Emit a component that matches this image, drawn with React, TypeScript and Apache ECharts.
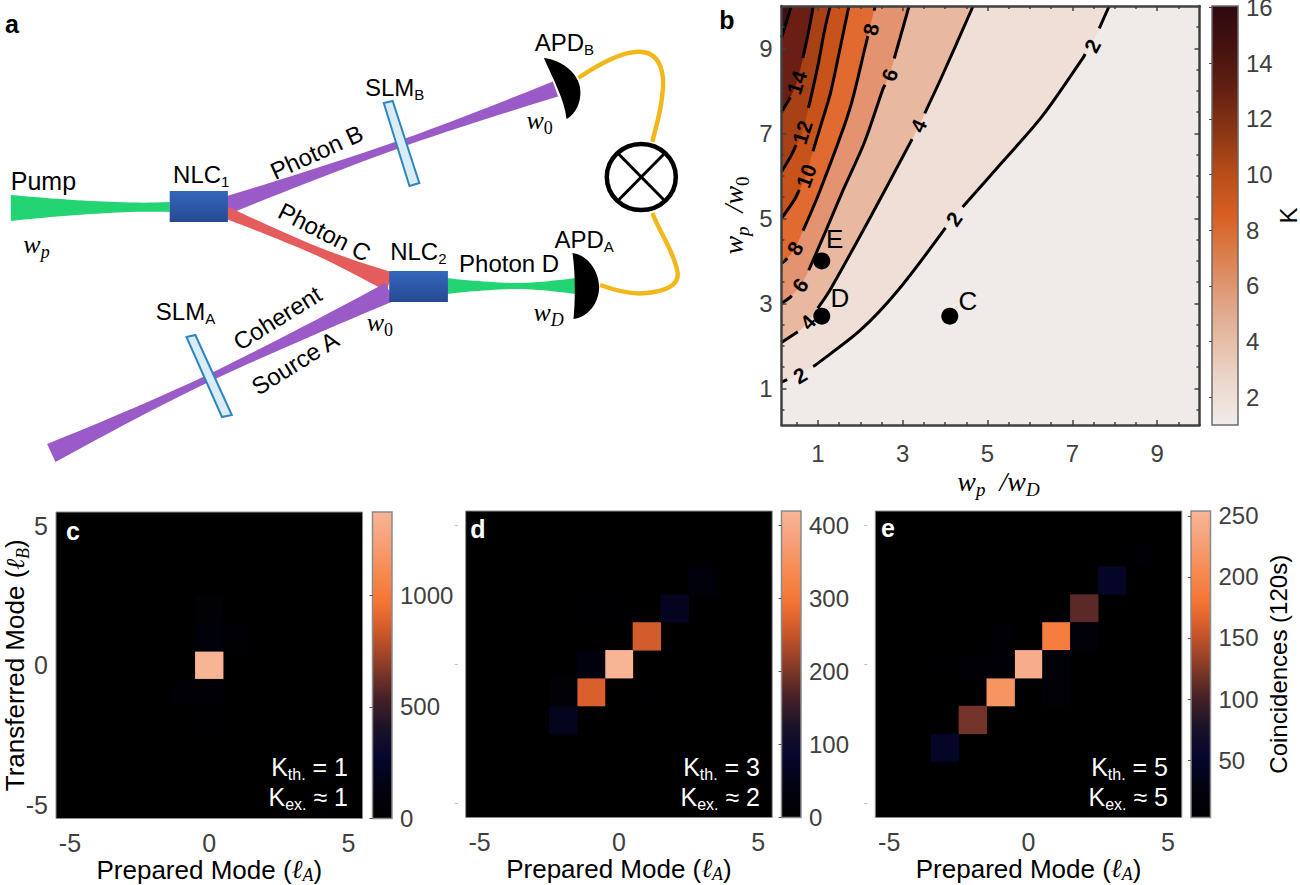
import React, { useEffect, useRef } from "react";
import * as echarts from "echarts";

// ---------- data ----------
const modes = ["-5", "-4", "-3", "-2", "-1", "0", "1", "2", "3", "4", "5"];
const heatStops = ["#000000", "#020212", "#06062e", "#1c1228", "#4a2228", "#8a3c28", "#c9552a", "#f47333", "#f68a50", "#f6a078", "#f8b596"];
const kStops = ["#f1ecea", "#ecd8cd", "#e6bea8", "#e0a080", "#db8050", "#d85f22", "#b84d1a", "#8a3614", "#642012", "#46120f", "#2e0810"];

const cellsC = [[0, 0, 1372], [0, 1, 70], [0, 2, 45], [1, 1, 35], [-1, -1, 30], [0, -1, 40], [0, -2, 25]];
const cellsD = [[0, 0, 420], [1, 1, 262], [-1, -1, 268], [2, 2, 62], [3, 3, 28], [-2, -2, 60], [-2, -1, 15], [-1, 0, 30], [0, 2, 5], [1, -1, 8], [-1, 2, 4]];
const cellsE = [[0, 0, 245], [1, 1, 190], [-1, -1, 215], [2, 2, 110], [-2, -2, 120], [3, 3, 48], [-3, -3, 48], [1, 0, 14], [2, 1, 16], [1, -1, 12], [-1, 1, 8], [-2, 0, 8], [-3, 0, 6], [4, 4, 8], [-1, 0, 10]];
const ticksC = [0, 500, 1000];
const ticksD = [0, 100, 200, 300, 400];
const ticksE = [50, 100, 150, 200, 250];
const ticksK = [2, 4, 6, 8, 10, 12, 14, 16];
const majorB = [1, 3, 5, 7, 9];
const minorB = [0.5, 1.5, 2, 2.5, 3.5, 4, 4.5, 5.5, 6, 6.5, 7.5, 8, 8.5, 9.5];

const contour2 = [[0.14, 1.15], [0.55, 1.33], [0.94, 1.55], [2, 2.37], [2.89, 3.31], [4.2, 5.03], [5.37, 6.35], [6.3, 7.42], [7.24, 8.76], [7.59, 9.37], [7.87, 10]];
const contour4 = [[0.14, 2.08], [0.58, 2.37], [0.76, 2.56], [0.93, 2.79], [1.28, 3.31], [2.22, 5], [3.33, 7.07], [3.95, 8.4], [4.66, 10]];
const contour6 = [[0.14, 3], [0.34, 3.14], [0.58, 3.43], [0.76, 3.73], [1.16, 4.65], [1.59, 5.66], [2.1, 6.8], [2.53, 8.04], [2.69, 8.38], [3.15, 10]];
const contour8 = [[0.14, 3.95], [0.22, 4], [0.46, 4.3], [0.62, 4.65], [1.05, 5.66], [1.74, 7.54], [2.13, 9.1], [2.35, 10]];
const contour10 = [[0.14, 5], [0.45, 5.45], [0.72, 6], [0.85, 6.48], [1.07, 7.2], [1.29, 7.93], [1.5, 8.9], [1.73, 10]];
const contour12 = [[0.14, 6.1], [0.35, 6.45], [0.63, 7.03], [0.8, 7.7], [1, 8.6], [1.15, 9.4], [1.29, 10]];
const contour14 = [[0.14, 7.5], [0.35, 7.85], [0.5, 8.2], [0.65, 8.8], [0.78, 9.4], [0.89, 10]];
const contour16 = [[0.14, 9.26], [0.25, 9.6], [0.37, 10]];
const contours = [contour2, contour4, contour6, contour8, contour10, contour12, contour14, contour16];
const bandColors = ["#efdfd6", "#e8b8a0", "#e39370", "#e06a30", "#c8531a", "#a84216", "#6b1e14", "#3f0f14"];
const contourLabels: [number, number, string, number][] = [
  [7.47, 9.06, "2", 62], [4.21, 4.99, "2", 55], [0.58, 1.31, "2", 30],
  [3.37, 7.18, "4", 65], [0.76, 2.56, "4", 48],
  [2.69, 8.38, "6", 72], [0.58, 3.43, "6", 55],
  [2.25, 9.45, "8", 78], [0.46, 4.3, "8", 58],
  [0.72, 6, "10", 70], [0.63, 7.03, "12", 72], [0.5, 8.2, "14", 72],
];
const points: [number, number, string, number[]][] = [
  [1.09, 4, "E", [13, -22]], [1.09, 2.7, "D", [18, -18]], [4.11, 2.7, "C", [18, -15]],
];

// ---------- drawing helpers ----------
const SANS = "Liberation Sans, Arial, sans-serif";
const SERIF = "Liberation Serif, DejaVu Serif, serif";
const TICK = "#404040";
const KX = 0.9866;

echarts.graphic.registerShape("detB", echarts.graphic.extendPath("M551,58 C570,60 590,75 588,95 C587,108 580,116 574,119 C572,100 561,80 551,58 Z", {}));
echarts.graphic.registerShape("detA", echarts.graphic.extendPath("M580,253 C596,255 607,272 607,287 C607,303 596,317 581,319 C583,300 583,272 580,253 Z", {}));
echarts.graphic.registerShape("wireB", echarts.graphic.extendPath("M586,78 C610,62 635,50 651,52 C670,54 674,75 671,95 C669,115 664,128 661,142", {}));
echarts.graphic.registerShape("wireA", echarts.graphic.extendPath("M608,285 C625,291 640,295 655,293 C675,291 690,285 686,270 C682,250 668,232 661,213", {}));

function stops(list: string[]) {
  return list.map((color, i) => ({ offset: i / (list.length - 1), color }));
}

// y of a contour at x, along its read-off polyline, to place the break under a contour label
function contourY(c: number[][], x: number) {
  for (let i = 1; i < c.length; i++) {
    if (x <= c[i][0]) {
      const t = (x - c[i - 1][0]) / (c[i][0] - c[i - 1][0]);
      return c[i - 1][1] + t * (c[i][1] - c[i - 1][1]);
    }
  }
  return c[c.length - 1][1];
}

function withGaps(c: number[][], labels: [number, number, string, number][]) {
  const cuts = labels
    .map(([x, , t, rot]) => {
      const half = ((t.length > 1 ? 20 : 15) * Math.cos((rot * Math.PI) / 180)) / 42.5;
      return [Math.max(x - half, c[0][0]), Math.min(x + half, c[c.length - 1][0])];
    })
    .sort((a, b) => a[0] - b[0]);
  const out: any[] = [];
  let k = 0;
  c.forEach((p) => {
    while (k < cuts.length && p[0] >= cuts[k][0]) {
      out.push([cuts[k][0], contourY(c, cuts[k][0])], ["-", "-"], [cuts[k][1], contourY(c, cuts[k][1])]);
      k++;
    }
    const inside = cuts.some(([a, b]) => p[0] >= a && p[0] <= b);
    if (!inside) out.push(p);
  });
  return out;
}

function beam(x0: number, y0: number, x1: number, y1: number, w0: number, wm: number, w1: number, tm: number, color: string) {
  const dx = x1 - x0, dy = y1 - y0, L = Math.hypot(dx, dy), nx = -dy / L, ny = dx / L;
  const upper: number[][] = [], lower: number[][] = [];
  for (let i = 0; i <= 24; i++) {
    const t = i / 24;
    const u = t < tm ? (tm - t) / tm : (t - tm) / (1 - tm);
    const w = wm + ((t < tm ? w0 : w1) - wm) * Math.pow(u, 1.6);
    upper.push([(x0 + dx * t + nx * w) * KX, y0 + dy * t + ny * w]);
    lower.unshift([(x0 + dx * t - nx * w) * KX, y0 + dy * t - ny * w]);
  }
  return { type: "polygon", z: 3, shape: { points: upper.concat(lower) }, style: { fill: color } };
}

function box(x: number, y: number, w: number, h: number) {
  return {
    type: "rect", z: 5, shape: { x: x * KX, y, width: w * KX, height: h },
    style: { fill: { type: "linear", x: 0, y: 0, x2: 0, y2: 1, colorStops: [{ offset: 0, color: "#3366bd" }, { offset: 1, color: "#274a91" }] } },
  };
}

const richSub = (size: number, color = "#000", pad = Math.round(size * 0.6)) => ({
  m: { fontFamily: SANS, fontSize: size, fill: color, color },
  s: { fontFamily: SANS, fontSize: Math.round(size * 0.62), fill: color, color, padding: [pad, 0, 0, 0] },
  i: { fontFamily: SERIF, fontStyle: "italic", fontSize: size, fill: color, color },
  j: { fontFamily: SERIF, fontStyle: "italic", fontSize: Math.round(size * 0.68), fill: color, color, padding: [pad, 0, 0, 0] },
  k: { fontFamily: SERIF, fontSize: Math.round(size * 0.68), fill: color, color, padding: [pad, 0, 0, 0] },
});

function label(text: string, x: number, y: number, size = 24, rotationDeg = 0, color = "#000", align = "center", kx = KX) {
  return {
    type: "text", z: 20, x: x * kx, y, rotation: (rotationDeg * Math.PI) / 180,
    style: { text, rich: richSub(size, color), font: `${size}px ${SANS}`, fill: color, align, verticalAlign: "middle" },
  };
}

function panelMark(text: string, x: number, y: number, color: string) {
  return {
    type: "text", z: 20, x, y,
    style: { text, font: `bold 25px ${SANS}`, fill: color, align: "center", verticalAlign: "middle" },
  };
}

const poly = (pts: number[][]) => pts.map(([x, y]) => [x * KX, y]);
const GREEN = "#22d472", PURPLE = "#9a5ac8", RED = "#e55c5c";

const schematic: any[] = [
  beam(11, 208, 172, 207, 13, 4.5, 5, 0.85, GREEN),
  beam(228, 206, 563, 89, 9, 3.5, 8, 0.55, PURPLE),
  beam(228, 212, 395, 282, 6, 4, 10, 0.5, RED),
  beam(395, 292, 52, 453, 10, 3.5, 10, 0.55, PURPLE),
  beam(452, 286, 583, 286, 8, 3, 8, 0.55, GREEN),
  box(172, 191, 59, 31),
  box(394.5, 271, 59.5, 31),
  { type: "polygon", z: 6, shape: { points: poly([[389, 103], [398, 101], [425, 183], [415, 186]]) }, style: { fill: "#d9ecf8", stroke: "#2e86c1", lineWidth: 2 } },
  { type: "polygon", z: 6, shape: { points: poly([[189, 337], [198, 335], [235, 415], [225, 417]]) }, style: { fill: "#d9ecf8", stroke: "#2e86c1", lineWidth: 2 } },
  { type: "wireB", z: 4, scaleX: KX, style: { fill: "none", stroke: "#f2b71a", lineWidth: 4.5 } },
  { type: "wireA", z: 4, scaleX: KX, style: { fill: "none", stroke: "#f2b71a", lineWidth: 4.5 } },
  { type: "detB", z: 7, scaleX: KX, style: { fill: "#000" } },
  { type: "detA", z: 7, scaleX: KX, style: { fill: "#000" } },
  { type: "ellipse", z: 7, shape: { cx: 650 * KX, cy: 177, rx: 34.5, ry: 33 }, style: { fill: "#fff", stroke: "#000", lineWidth: 4.5 } },
  { type: "line", z: 8, shape: { x1: 626 * KX, y1: 153, x2: 674 * KX, y2: 201 }, style: { stroke: "#000", lineWidth: 3 } },
  { type: "line", z: 8, shape: { x1: 674 * KX, y1: 153, x2: 626 * KX, y2: 201 }, style: { stroke: "#000", lineWidth: 3 } },
  panelMark("a", 12, 24, "#000"),
  panelMark("b", 727, 20, "#000"),
  panelMark("c", 73, 531, "#fff"),
  panelMark("d", 478, 529, "#fff"),
  panelMark("e", 888, 528, "#fff"),
  label("Pump", 44, 181, 25),
  label("{m|NLC}{s|1}", 204, 174),
  label("{m|NLC}{s|2}", 424, 251),
  label("{m|SLM}{s|B}", 400, 87),
  label("{m|SLM}{s|A}", 188, 311),
  label("{m|APD}{s|B}", 572, 42),
  label("{m|APD}{s|A}", 592, 239),
  label("Photon B", 321, 152, 24, 24.5),
  label("Photon C", 329, 232, 24, -27),
  label("Photon D", 516, 263),
  label("Coherent", 281, 318, 24, 32),
  label("Source A", 299, 363, 24, 32),
  label("{i|w}{j|p}", 37, 244, 26),
  label("{i|w}{k|0}", 547, 120, 26),
  label("{i|w}{k|0}", 385, 322, 26),
  label("{i|w}{j|D}", 556, 312, 26),
  label("{m|K}{s|th.}{m| = 1}", 348, 767, 25, 0, "#fff", "right", 1),
  label("{m|K}{s|ex.}{m| ≈ 1}", 348, 797, 25, 0, "#fff", "right", 1),
  label("{m|K}{s|th.}{m| = 3}", 760, 767, 25, 0, "#fff", "right", 1),
  label("{m|K}{s|ex.}{m| ≈ 2}", 760, 797, 25, 0, "#fff", "right", 1),
  label("{m|K}{s|th.}{m| = 5}", 1168, 767, 25, 0, "#fff", "right", 1),
  label("{m|K}{s|ex.}{m| ≈ 5}", 1168, 797, 25, 0, "#fff", "right", 1),
];

function buildOption() {
  const grid: any[] = [], xAxis: any[] = [], yAxis: any[] = [], series: any[] = [], visualMap: any[] = [];
  const modeName = "{m|Prepared Mode (}{i|ℓ}{j|A}{m|)}";

  // ---- panel b ----
  grid.push({ left: 781.5, top: 6, width: 418, height: 419, show: true, backgroundColor: "#f0ebe9", borderWidth: 0, outerBoundsMode: "none" });
  const valAxis = { gridIndex: 0, type: "value", min: 0.14, max: 10, z: 8, splitLine: { show: false } };
  const nameRich = richSub(28);
  const frame = { show: true, lineStyle: { color: "#404040", width: 2.5 } };
  const major = { show: true, inside: true, length: 5, customValues: majorB, lineStyle: { color: "#404040", width: 1.5 } };
  const minor = { show: true, inside: true, length: 3, customValues: minorB, lineStyle: { color: "#404040", width: 1.5 } };
  const labelBase = { show: true, customValues: majorB, color: TICK, fontFamily: SANS, fontSize: 24, formatter: (v: number) => String(v) };
  xAxis.push(
    { ...valAxis, position: "bottom", axisLine: frame, axisTick: major, axisLabel: { ...labelBase, margin: 16 }, name: "{i|w}{j|p}{i|  /w}{j|D}", nameLocation: "middle", nameGap: 38, nameTextStyle: { rich: nameRich, padding: [0, 0, 0, 16] } },
    { ...valAxis, position: "top", axisLine: frame, axisTick: major, axisLabel: { show: false } },
    { ...valAxis, position: "bottom", axisLine: { show: false }, axisTick: minor, axisLabel: { show: false } },
    { ...valAxis, position: "top", axisLine: { show: false }, axisTick: minor, axisLabel: { show: false } },
  );
  yAxis.push(
    { ...valAxis, position: "left", axisLine: frame, axisTick: major, axisLabel: { ...labelBase, margin: 9 }, name: "{i|w}{j|p}{i|  /w}{k|0}", nameLocation: "middle", nameRotate: 90, nameGap: 30, nameTextStyle: { rich: nameRich } },
    { ...valAxis, position: "right", axisLine: frame, axisTick: major, axisLabel: { show: false } },
    { ...valAxis, position: "left", axisLine: { show: false }, axisTick: minor, axisLabel: { show: false } },
    { ...valAxis, position: "right", axisLine: { show: false }, axisTick: minor, axisLabel: { show: false } },
  );
  contours.forEach((c, i) => {
    series.push({
      type: "line", xAxisIndex: 0, yAxisIndex: 0, data: c, smooth: 0.3, showSymbol: false, symbol: "none", silent: true, z: 2 + i * 0.01,
      lineStyle: { width: 0, opacity: 0 }, areaStyle: { origin: "end", color: bandColors[i], opacity: 1 },
    });
  });
  contours.forEach((c, i) => {
    const own = contourLabels.filter((l) => Number(l[2]) === (i + 1) * 2);
    series.push({
      type: "line", xAxisIndex: 0, yAxisIndex: 0, data: withGaps(c, own), smooth: 0.3, showSymbol: false, symbol: "none", silent: true, z: 2.5,
      connectNulls: false, lineStyle: { color: "#000", width: 3 },
    });
  });
  series.push({
    type: "scatter", xAxisIndex: 0, yAxisIndex: 0, symbolSize: 2, z: 3, itemStyle: { color: "transparent", opacity: 1 }, clip: false,
    data: contourLabels.map(([x, y, t, rotate]) => ({
      value: [x, y],
      label: { show: true, position: "inside", formatter: t, rotate, color: "#000", opacity: 1, fontFamily: SANS, fontSize: 21, fontWeight: "bold" },
    })),
  });
  series.push({
    type: "scatter", xAxisIndex: 0, yAxisIndex: 0, symbolSize: 17, z: 4, itemStyle: { color: "#000", opacity: 1 },
    data: points.map(([x, y, t, offset]) => ({
      value: [x, y],
      label: { show: true, position: "inside", formatter: t, offset, color: "#000", opacity: 1, fontFamily: SANS, fontSize: 26 },
    })),
  });

  // ---- colour bars ----
  const colorBar = (left: number, top: number, width: number, height: number, min: number, max: number, ticks: number[], colors: string[], border: string, name?: string, nameGap = 0) => {
    const g = grid.length;
    grid.push({ left, top, width, height, outerBoundsMode: "none" });
    xAxis.push({ gridIndex: g, type: "value", min: 0, max: 1, show: false });
    const yi = yAxis.length;
    yAxis.push({
      gridIndex: g, type: "value", min, max, position: "right", z: 8, splitLine: { show: false },
      axisLine: { show: false },
      axisTick: { show: true, inside: true, length: 3, customValues: ticks, lineStyle: { color: "#6b4a3c", width: 1 } },
      axisLabel: { show: true, customValues: ticks, color: TICK, fontFamily: SANS, fontSize: 24, margin: 8, formatter: (v: number) => String(v) },
      ...(name ? { name, nameLocation: "middle", nameRotate: 90, nameGap, nameMoveOverlap: false, nameTextStyle: { fontFamily: SANS, fontSize: 24, color: "#000" } } : {}),
    });
    series.push({
      type: "custom", xAxisIndex: xAxis.length - 1, yAxisIndex: yi, data: [[0, min]], silent: true, clip: false,
      renderItem: (_p: any, api: any) => {
        const a = api.coord([0, min]), b = api.coord([1, max]);
        return {
          type: "rect", shape: { x: a[0], y: b[1], width: b[0] - a[0], height: a[1] - b[1] },
          style: { fill: { type: "linear", x: 0, y: 1, x2: 0, y2: 0, colorStops: stops(colors) }, stroke: border, lineWidth: 1.5 },
        };
      },
    });
  };
  colorBar(1212, 6, 26, 419, 1, 16.05, ticksK, kStops, "#6a6a6a", "K", 38);

  // ---- heat maps ----
  const heat = (left: number, top: number, cells: number[][], min: number, max: number, showY: boolean, sideTicks: boolean) => {
    const g = grid.length;
    grid.push({ left, top, width: 306.5, height: 306.5, show: true, backgroundColor: "#000", borderColor: "#8a8a8a", borderWidth: 1, outerBoundsMode: "none" });
    const xi = xAxis.length, yi = yAxis.length;
    xAxis.push({
      gridIndex: g, type: "category", data: modes, position: "bottom", axisLine: { show: false }, axisTick: { show: false },
      axisLabel: { show: true, interval: 4, color: TICK, fontFamily: SANS, fontSize: 25, margin: 12 }, splitLine: { show: false },
      name: modeName, nameLocation: "middle", nameGap: 37, nameMoveOverlap: false, nameTextStyle: { rich: richSub(26, "#000", 10) },
    });
    yAxis.push({
      gridIndex: g, type: "category", data: modes, position: "left", splitLine: { show: false }, axisLine: { show: false },
      offset: sideTicks ? 8 : 0,
      axisTick: { show: sideTicks, alignWithLabel: true, interval: 4, length: 3, lineStyle: { color: "#bdbdbd", width: 1 } },
      axisLabel: { show: showY, interval: 4, color: TICK, fontFamily: SANS, fontSize: 25, margin: 8 },
      ...(showY ? { name: "{m|Transferred Mode (}{i|ℓ}{j|B}{m|)}", nameLocation: "middle", nameRotate: 90, nameGap: 24, nameMoveOverlap: false, nameTextStyle: { rich: richSub(26) } } : {}),
    });
    const si = series.length;
    series.push({
      type: "heatmap", xAxisIndex: xi, yAxisIndex: yi, silent: true, z: 2,
      data: cells.map(([x, y, v]) => [String(x), String(y), v]),
    });
    visualMap.push({ type: "continuous", show: false, seriesIndex: si, dimension: 2, min, max, inRange: { color: heatStops } });
  };
  heat(56, 512, cellsC, 0, 1372, true, false);
  colorBar(372.5, 512, 19.5, 306.5, 0, 1372, ticksC, heatStops, "#8a8a8a");
  heat(465.7, 511, cellsD, 0, 420, false, true);
  colorBar(781.5, 511, 19.5, 306.5, 0, 420, ticksD, heatStops, "#8a8a8a");
  heat(875.3, 511, cellsE, 3, 254, false, true);
  colorBar(1191, 511, 19.5, 306.5, 3, 254, ticksE, heatStops, "#8a8a8a", "Coincidences (120s)", 56);

  return { animation: false, backgroundColor: "#fff", grid, xAxis, yAxis, series, visualMap, graphic: { elements: schematic } };
}

export default function App() {
  const ref = useRef<HTMLDivElement>(null);
  useEffect(() => {
    document.body.style.margin = "0";
    const chart = echarts.init(ref.current!, undefined, { renderer: "svg" });
    chart.setOption(buildOption() as any);
    return () => chart.dispose();
  }, []);
  return <div ref={ref} style={{ width: 1300, height: 885 }} />;
}
